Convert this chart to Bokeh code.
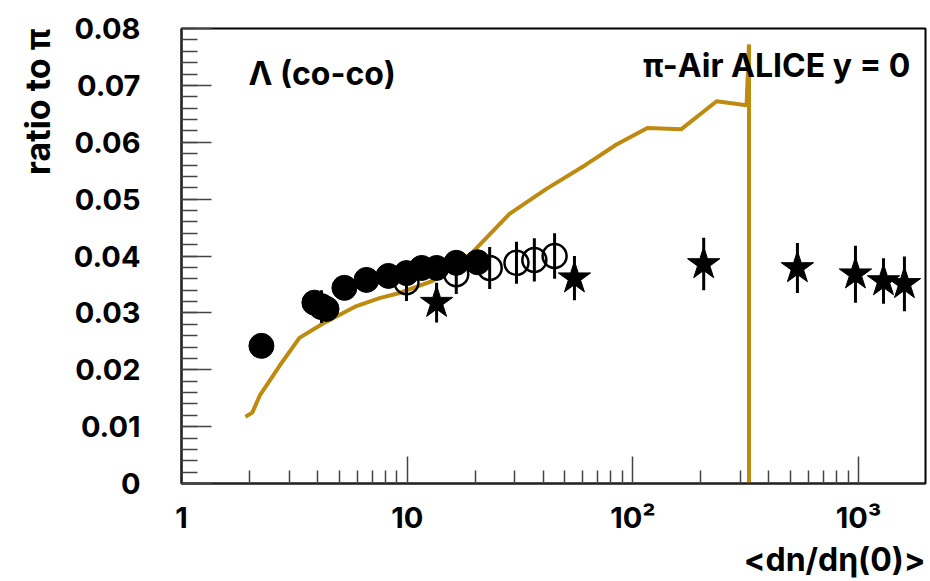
from bokeh.plotting import figure
from bokeh.models import FixedTicker, Label, ColumnDataSource, Title
from bokeh.embed import file_html
from bokeh.resources import INLINE

# ---------------- data ----------------
filled_x = [2.26, 3.88, 4.39, 5.27, 6.6, 8.26, 9.93, 11.6, 13.5, 16.5, 20.5]
filled_y = [0.0242, 0.0318, 0.0307, 0.0344, 0.0358, 0.0365, 0.0370, 0.0379, 0.0379, 0.0388, 0.0389]

open_x = [4.17, 9.93, 16.5, 23.2, 30.5, 36.6, 45.0]
open_y = [0.0311, 0.0354, 0.0368, 0.0379, 0.0388, 0.0393, 0.0400]
open_err = [0.0029, 0.0033, 0.0035, 0.0037, 0.0037, 0.0038, 0.0040]

star_x = [13.5, 55.1, 206, 536, 969, 1290, 1597]
star_y = [0.0318, 0.0361, 0.0386, 0.0379, 0.0368, 0.0356, 0.0351]
star_err = [0.0035, 0.0039, 0.0046, 0.0044, 0.0050, 0.0040, 0.0048]

model_x = [1.92, 2.06, 2.22, 2.72, 3.33, 4.22, 5.96, 7.54, 9.25, 12.9, 19.3, 28.4,
           41.4, 62.2, 84.6, 116, 164, 235, 319, 327, 327]
model_y = [0.01175, 0.01246, 0.01544, 0.0207, 0.0256, 0.0281, 0.0312, 0.0326, 0.0335,
           0.0356, 0.0405, 0.0474, 0.0518, 0.0561, 0.0596, 0.0625, 0.0623, 0.0672,
           0.0665, 0.0772, 0.0]

x_major = [1, 10, 100, 1000]
x_major_labels = ["1", "10", "10\u00b2", "10\u00b3"]
y_major = [0.0, 0.01, 0.02, 0.03, 0.04, 0.05, 0.06, 0.07, 0.08]
y_major_labels = ["0", "0.01", "0.02", "0.03", "0.04", "0.05", "0.06", "0.07", "0.08"]

x_title = "<dn/d\u03b7(0)>"
y_title = "ratio to \u03c0"

X_MIN, X_MAX = 1, 1980
Y_MIN, Y_MAX = 0.0, 0.08

FONT = "Inter"
GOLD = "#BF8A10"

# ---------------- figure ----------------
p = figure(width=928, height=578, x_axis_type="log",
           x_range=(X_MIN, X_MAX), y_range=(Y_MIN, Y_MAX),
           output_backend="svg", toolbar_location=None,
           min_border_left=181, min_border_right=3,
           min_border_top=28, min_border_bottom=95)
p.background_fill_color = "white"
p.border_fill_color = "white"
p.outline_line_color = "black"
p.outline_line_width = 2
p.grid.visible = False

# x axis
x_minor = [m * d for d in [1, 10, 100, 1000] for m in range(2, 10)]
p.xaxis.ticker = FixedTicker(ticks=x_major, minor_ticks=x_minor)
p.xaxis.major_label_overrides = {t: l for t, l in zip(x_major, x_major_labels)}
p.xaxis.major_tick_in = 27
p.xaxis.major_tick_out = 0
p.xaxis.minor_tick_in = 13
p.xaxis.minor_tick_out = 0
p.xaxis.major_label_standoff = 16

# y axis
y_minor = [round(i * 0.002, 4) for i in range(0, 41)]
p.yaxis.ticker = FixedTicker(ticks=y_major, minor_ticks=y_minor)
p.yaxis.major_label_overrides = {t: l for t, l in zip(y_major, y_major_labels)}
p.yaxis.major_tick_in = 30
p.yaxis.major_tick_out = 0
p.yaxis.minor_tick_in = 16
p.yaxis.minor_tick_out = 0
p.yaxis.major_label_standoff = 41

for ax in (p.xaxis[0], p.yaxis[0]):
    ax.axis_line_color = "#222222"
    ax.axis_line_width = 2
    ax.major_tick_line_color = "#444444"
    ax.minor_tick_line_color = "#444444"
    ax.major_tick_line_width = 1.5
    ax.minor_tick_line_width = 1.5
    ax.major_label_text_font = FONT
    ax.major_label_text_font_style = "bold"
    ax.major_label_text_font_size = "29px"
    ax.major_label_text_color = "black"

# axis titles as side-panel titles, aligned to the axis ends (ROOT style)
p.add_layout(Title(text=x_title, align="right", text_font=FONT, text_font_style="bold",
                   text_font_size="32px", text_color="black", standoff=0), "below")
p.add_layout(Title(text=y_title, align="right", text_font=FONT, text_font_style="bold",
                   text_font_size="34px", text_color="black", standoff=26), "left")

# ---------------- marks ----------------
p.line(model_x, model_y, line_color=GOLD, line_width=4)

open_src = ColumnDataSource(dict(x=open_x, y=open_y,
                                 lo=[v - e for v, e in zip(open_y, open_err)],
                                 hi=[v + e for v, e in zip(open_y, open_err)]))
p.segment(x0="x", x1="x", y0="lo", y1="hi", source=open_src, line_color="black", line_width=3)
p.scatter("x", "y", source=open_src, marker="circle", size=24, fill_color=None,
          line_color="black", line_width=2.5)

p.scatter(filled_x, filled_y, marker="circle", size=25, fill_color="black", line_color="black")

star_src = ColumnDataSource(dict(x=star_x, y=star_y,
                                 lo=[v - e for v, e in zip(star_y, star_err)],
                                 hi=[v + e for v, e in zip(star_y, star_err)]))
p.segment(x0="x", x1="x", y0="lo", y1="hi", source=star_src, line_color="black", line_width=3)
p.scatter("x", "y", source=star_src, marker="star", size=34, fill_color="black", line_color="black")

# ---------------- texts ----------------
p.add_layout(Label(x=1.98, y=0.0721, text="\u039b (co-co)", text_align="left",
                   text_baseline="alphabetic", text_font=FONT, text_font_style="bold",
                   text_font_size="32px", text_color="black"))
p.add_layout(Label(x=1698, y=0.0735, text="\u03c0-Air ALICE y = 0", text_align="right",
                   text_baseline="alphabetic", text_font=FONT, text_font_style="bold",
                   text_font_size="32px", text_color="black"))

open("out.html", "w").write(file_html(p, INLINE))
